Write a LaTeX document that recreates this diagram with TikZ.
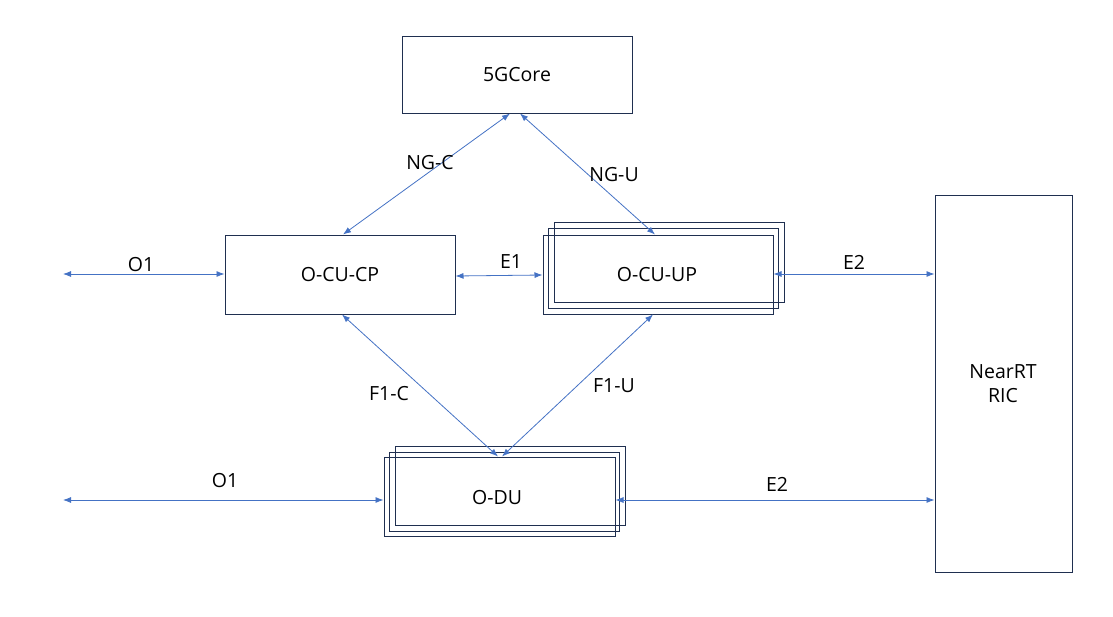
\documentclass[tikz,border=0pt]{standalone}
\usepackage{fontspec}
\setmainfont{Open Sans}
\usetikzlibrary{arrows.meta}
\definecolor{boxc}{HTML}{1F2F50}
\definecolor{arrc}{HTML}{4472C4}
\tikzset{
  box/.style={draw=boxc, line width=1pt, inner sep=0pt},
  lnk/.style={draw=arrc, line width=0.8pt, {Latex[length=8pt,width=6pt]}-{Latex[length=8pt,width=6pt]}},
  lbl/.style={font=\fontsize{19.5}{22}\selectfont, inner sep=0pt},
}
\begin{document}
\begin{tikzpicture}[x=1pt,y=-1pt]
\useasboundingbox (0,0) rectangle (1113,616);
% 5G core
\node[box, minimum width=230pt, minimum height=77pt] (core) at (517,74.5) {};
\node[lbl] (coret) at (517,75) {5GCore};
% O-CU-CP
\node[box, minimum width=230pt, minimum height=79pt] (cp) at (340,274.5) {};
\node[lbl] (cpt) at (340,275) {O-CU-CP};
% O-CU-UP stack
\node[box, minimum width=230pt, minimum height=80pt] (up3) at (669,262) {};
\node[box, minimum width=230pt, minimum height=80pt] (up2) at (663,268) {};
\node[box, minimum width=230pt, minimum height=79pt] (up) at (658,274.5) {};
\node[lbl] (upt) at (657,275) {O-CU-UP};
% O-DU stack
\node[box, minimum width=230pt, minimum height=79pt] (du3) at (510,485.5) {};
\node[box, minimum width=230pt, minimum height=79pt] (du2) at (504,491.5) {};
\node[box, minimum width=231pt, minimum height=79pt] (du) at (499.5,496.5) {};
\node[lbl] (dut) at (497,498) {O-DU};
% Near RT RIC
\node[box, minimum width=137pt, minimum height=377pt] (ric) at (1003.5,383.5) {};
\node[lbl, align=center] (rict) at (1003,384) {NearRT\\[2pt]RIC};
% free ends
\coordinate (o1a) at (63,274);
\coordinate (o1b) at (63,500);
% connectors
\draw[lnk] (o1a) -- (cp.west |- o1a);
\draw[lnk] (cp.east |- 0,276) -- (up.west |- 0,275);
\draw[lnk] (up.east |- 0,274) -- (ric.west |- 0,274);
\draw[lnk] (o1b) -- (du.west |- o1b);
\draw[lnk] (du.east |- 0,500) -- (ric.west |- 0,500);
\draw[lnk] (core.south -| 510,0) -- (cp.north -| 343,0);
\draw[lnk] (core.south -| 520,0) -- (up.north -| 655,0);
\draw[lnk] (cp.south -| 342,0) -- (du.north -| 498,0);
\draw[lnk] (up.south -| 653,0) -- (du.north -| 502,0);
% labels
\node[lbl] (lo1a) at (141,265) {O1};
\node[lbl] (le1) at (511,262) {E1};
\node[lbl] (le2a) at (854,262) {E2};
\node[lbl] (lo1b) at (225,481) {O1};
\node[lbl] (le2b) at (777,484) {E2};
\node[lbl] (lngc) at (430,163) {NG-C};
\node[lbl] (lngu) at (614,175) {NG-U};
\node[lbl] (lf1c) at (389,394) {F1-C};
\node[lbl] (lf1u) at (614,386) {F1-U};
\end{tikzpicture}
\end{document}
